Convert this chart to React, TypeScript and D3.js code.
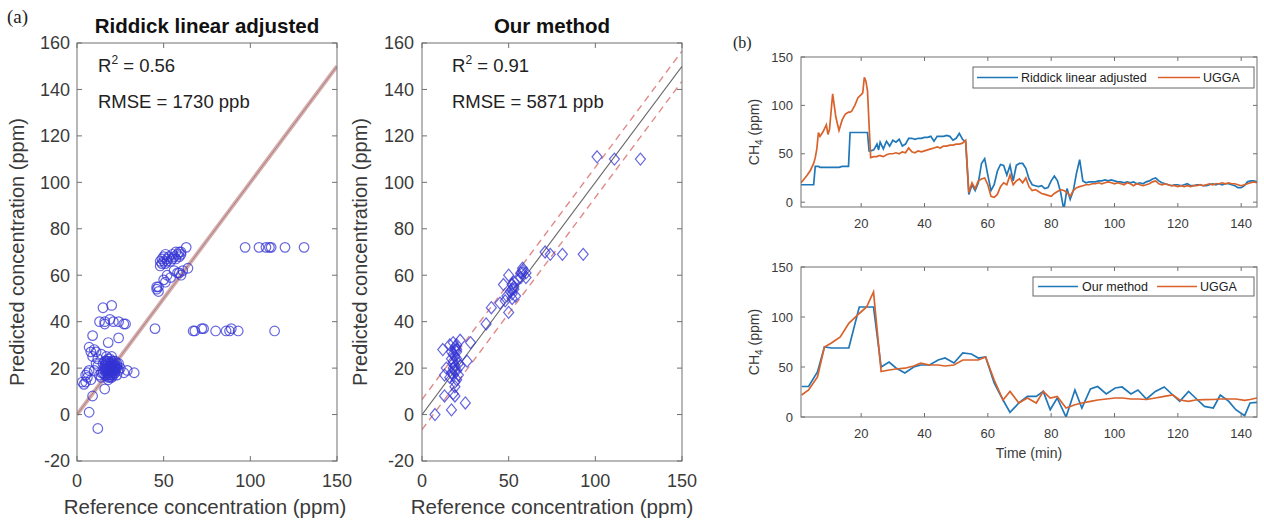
import React from "react";
import * as d3 from "d3";

// ---------- DATA ----------
// Left scatter: Riddick linear adjusted (reference ppm, predicted ppm)
const riddickRef = [63,97,105,109,111,112,120,131,
  45,67,68,72,73,80,86,88,89,93,114,
  46,46,47,47,48,48,49,49,50,50,51,51,52,52,53,54,55,55,56,57,57,58,59,59,60,60,50,52,54,56,58,59,60,64,51,61,
  20,15,13,16,19,21,24,28,27,16,9,18,24,7,8,10,11,9,12,14,5,6,4,3,5,6,7,8,16,9,7,12,29,33,27,25,10,11,12,13,14,
  15,16,16,17,17,17,18,18,18,19,19,19,20,20,20,20,21,21,21,22,22,22,23,23,24,18,19,20,16,17,21,15,14,23,24,18,19,22,20,17,
  16,17,18,19,20,21,22,17,18,19,20,21,16,18,20,22,19,21,17,23,18,20,19,21,22];
const riddickPred = [72,72,72,72,72,72,72,72,
  37,36,36,37,37,36,36,36,37,36,36,
  54,55,53,55,64,66,65,67,66,68,65,69,66,67,68,66,67,69,68,67,70,69,68,70,69,70,58,60,59,62,61,61,60,63,57,62,
  47,46,40,40,41,40,40,39,39,39,34,31,33,29,27,28,27,25,24,26,17,16,13,14,14,18,19,15,11,8,1,-6,19,18,18,20,19,22,21,17,18,
  18,19,21,20,22,17,20,23,16,19,21,24,18,20,22,25,19,21,17,20,23,18,20,22,19,18,17,16,17,25,23,22,16,17,22,15,22,21,19,19,
  20,21,22,20,21,20,19,18,19,18,21,22,23,24,23,21,20,19,23,21,17,17,16,18,20];

// Middle scatter: Our method
const oursRef = [7.5,17,25,19,18,13,12,16,18,20,17,19,22,28,26,14,13,18,19,18,19,19,20,21,22,17,18,20,19,21,17,16,20,
  37,40,45,47,50,50,49,51,52,53,52,53,54,57,57,58,60,58,71,74,81,93,101,111,126,48,55,60,52,
  18,19,20,19,18,20,53,52,58];
const oursPred = [0,2,5,8,9,8,28,30,31,30,27,28,32,31,23,20,17,23,21,17,14,12,24,17,21,18,20,27,29,22,24,16,19,
  39,46,48,56,60,44,51,53,56,57,52,54,51,59,61,63,61,62,70,69,69,69,111,110,110,49,58,59,50,
  26,25,28,19,22,15,55,54,61];

// Top time series
const topTime = [1,2,3,4,5,5.5,6,6.5,7,8,9,9.5,10,11,12,13,14,15,16,16.5,17,18,19,20,20.5,21,21.5,22,22.5,23,24,25,25.5,26,27,28,29,30,31,32,33,34,35,36,37,38,39,40,41,42,43,44,45,46,47,48,49,50,51,52,53,54,55,56,57,58,59,60,61,62,63,64,65,66,67,68,69,70,71,72,73,74,75,76,77,78,79,80,81,82,83,84,85,86,87,88,89,90,91,92,93,94,95,96,97,98,99,100,101,102,103,104,105,106,107,108,109,110,111,112,113,114,115,116,117,118,119,120,121,122,123,124,125,126,127,128,129,130,131,132,133,134,135,136,137,138,139,140,141,142,143,144,145];
const topUGGA = [20,24,28,33,40,46,55,72,68,73,80,70,75,112,88,74,85,91,93,93,94,100,108,111,113,129,125,115,80,46,47,47,48,48,47,49,50,50,51,50,52,51,56,52,51,53,52,53,54,55,56,57,56,58,58,59,59,60,60,61,64,10,20,14,22,24,25,18,6,5,8,16,20,18,28,18,22,24,20,25,16,12,13,11,9,8,7,6,9,11,13,12,10,6,12,15,16,17,18,18,19,19,20,19,20,21,20,19,20,19,18,20,19,17,19,18,17,18,19,21,22,19,18,19,18,17,17,16,17,16,17,16,17,17,18,17,18,19,18,19,19,20,19,20,19,19,18,17,18,19,20,21,20];
const topRiddick = [18,18,18,18,18,37,37,37,36,36,36,36,36,36,36,36,37,37,37,72,72,72,72,72,72,72,72,72,53,53,54,60,54,62,55,63,58,64,62,65,58,60,66,66,65,66,66,67,67,68,63,68,68,68,69,68,64,66,71,65,62,8,18,12,20,40,45,28,12,18,32,39,38,28,38,22,38,40,40,35,24,18,17,16,17,14,15,22,27,22,10,-8,14,3,12,30,44,22,20,21,21,21,22,22,23,22,23,22,21,21,20,21,20,21,19,20,19,21,22,24,25,22,20,19,18,17,18,18,17,18,19,17,17,18,18,17,17,18,19,18,19,18,19,19,18,17,15,15,17,21,22,22,21];

// Bottom time series
const botTime = [1.2,3.4,6.2,8.4,10.6,13.4,16.1,19.4,21.7,23.9,26.3,28.8,31,33.8,36.6,38.8,41.6,44.3,46.5,49.3,52.1,54.8,57,59.3,62,64.8,67,69.8,72.5,75.3,77.5,79.7,81.9,84.7,87.5,89.7,92.4,94.7,97.4,100.2,102.4,105.2,107.4,110.1,112.9,115.7,118.4,120.6,123.4,125.6,128.4,131.2,133.4,136.1,138.3,141.1,142.8,145];
const botOurs = [30.5,30.5,45,70,69,69,69,110,110,110,50,55,49,44,50,52,52,57,59,54,64,63,59,60,34,17,4.6,14,20.6,20.6,25.6,7.3,19,0,27,9,28,30.5,23,29,30,23,27,18,25.6,30,22,15.6,25.6,19,10.6,9,22,15.6,7.3,1.3,14,14.6];
const botUGGA = [22,27,40,70,74,80,93.6,103.5,110,125,45.5,47,48,48.8,51,53.8,52,52,51,52,57,57,57,60,37,17,25.6,14,19,14,25.6,19,20.6,9,12.3,14,15.6,17,18,19,19,18,18,17.5,19,20.6,22,17,15.6,17,17.3,17.5,18,18,18,16.6,17.5,19];

const scatterXTicks = [0, 50, 100, 150];
const scatterYTicks = [-20, 0, 20, 40, 60, 80, 100, 120, 140, 160];
const tsXTicks = [20, 40, 60, 80, 100, 120, 140];
const tsYTicks = [0, 50, 100, 150];

// ---------- STYLE ----------
const FONT = "'Liberation Sans', Arial, Helvetica, sans-serif";
const AXIS = "#707070";
const TXT = "#3a3a3a";
const BLUE = "#1f77b8";
const ORANGE = "#d9622b";
const MARK = "#3434d4";

type Box = { x0: number; x1: number; y0: number; y1: number };

function Frame({ box, x, y, xt, yt, tl = 5, fs, xLabY, yLabX }: any) {
  return (
    <g>
      <rect x={box.x0} y={box.y0} width={box.x1 - box.x0} height={box.y1 - box.y0} fill="none" stroke={AXIS} strokeWidth={1} />
      {xt.map((t: number) => (
        <g key={"x" + t}>
          <line x1={x(t)} x2={x(t)} y1={box.y1} y2={box.y1 - tl} stroke={AXIS} />
          <line x1={x(t)} x2={x(t)} y1={box.y0} y2={box.y0 + tl} stroke={AXIS} />
          <text x={x(t)} y={xLabY} textAnchor="middle" fontSize={fs} fill={TXT} fontFamily={FONT}>{t}</text>
        </g>
      ))}
      {yt.map((t: number) => (
        <g key={"y" + t}>
          <line x1={box.x0} x2={box.x0 + tl} y1={y(t)} y2={y(t)} stroke={AXIS} />
          <line x1={box.x1} x2={box.x1 - tl} y1={y(t)} y2={y(t)} stroke={AXIS} />
          <text x={yLabX} y={y(t) + fs * 0.36} textAnchor="end" fontSize={fs} fill={TXT} fontFamily={FONT}>{t}</text>
        </g>
      ))}
    </g>
  );
}

export default function App() {
  const L: Box = { x0: 77, x1: 337, y0: 43, y1: 461 };
  const M: Box = { x0: 422, x1: 682, y0: 43, y1: 461 };
  const T: Box = { x0: 801, x1: 1257, y0: 57, y1: 207 };
  const B: Box = { x0: 801, x1: 1257, y0: 267, y1: 417 };

  const xl = d3.scaleLinear().domain([0, 150]).range([L.x0, L.x1]);
  const yl = d3.scaleLinear().domain([-20, 160]).range([L.y1, L.y0]);
  const xm = d3.scaleLinear().domain([0, 150]).range([M.x0, M.x1]);
  const ym = d3.scaleLinear().domain([-20, 160]).range([M.y1, M.y0]);
  const xt = d3.scaleLinear().domain([1, 145]).range([T.x0, T.x1]);
  const yt = d3.scaleLinear().domain([-5, 150]).range([T.y1, T.y0]);
  const xb = d3.scaleLinear().domain([1, 145]).range([B.x0, B.x1]);
  const yb = d3.scaleLinear().domain([0, 150]).range([B.y1, B.y0]);

  const lineT = d3.line<number>().x((_, i) => xt(topTime[i])).y((d) => yt(d));
  const lineB = d3.line<number>().x((_, i) => xb(botTime[i])).y((d) => yb(d));

  const diamond = (cx: number, cy: number) => `M${cx},${cy - 6}L${cx + 5},${cy}L${cx},${cy + 6}L${cx - 5},${cy}Z`;

  return (
    <svg width={1264} height={523} style={{ position: "absolute", left: 0, top: 0, display: "block", background: "#fff" }}>
      <defs>
        <clipPath id="clipT"><rect x={T.x0} y={T.y0} width={T.x1 - T.x0} height={T.y1 - T.y0} /></clipPath>
        <clipPath id="clipB"><rect x={B.x0} y={B.y0 - 2} width={B.x1 - B.x0} height={B.y1 - B.y0 + 2} /></clipPath>
        <clipPath id="clipL"><rect x={L.x0} y={L.y0} width={L.x1 - L.x0} height={L.y1 - L.y0} /></clipPath>
        <clipPath id="clipM"><rect x={M.x0} y={M.y0} width={M.x1 - M.x0} height={M.y1 - M.y0} /></clipPath>
      </defs>

      {/* panel labels */}
      <text x={7} y={23} fontSize={19} fontFamily="'Liberation Serif', 'Times New Roman', serif" fill="#222">(a)</text>
      <text x={733} y={48} fontSize={16} fontFamily="'Liberation Serif', 'Times New Roman', serif" fill="#222">(b)</text>

      {/* ---- Left scatter ---- */}
      <text x={(L.x0 + L.x1) / 2} y={33} textAnchor="middle" fontSize={20.5} fontWeight="bold" fontFamily={FONT} fill="#111">Riddick linear adjusted</text>
      <g clipPath="url(#clipL)">
        <line x1={xl(0)} y1={yl(0)} x2={xl(150)} y2={yl(150)} stroke="#d2aeae" strokeWidth={4} />
        <line x1={xl(0)} y1={yl(0)} x2={xl(150)} y2={yl(150)} stroke="#a86a6a" strokeWidth={1} opacity={0.7} />
        {riddickRef.map((v, i) => (
          <circle key={i} cx={xl(v)} cy={yl(riddickPred[i])} r={4.8} fill="none" stroke={MARK} strokeWidth={1.2} opacity={0.75} />
        ))}
      </g>
      <Frame box={L} x={xl} y={yl} xt={scatterXTicks} yt={scatterYTicks} fs={18} xLabY={487} yLabX={70} />
      <text x={98} y={72} fontSize={18.5} fontFamily={FONT} fill="#222">R<tspan dy={-8} fontSize={12}>2</tspan><tspan dy={8}> = 0.56</tspan></text>
      <text x={98} y={108} fontSize={18.5} fontFamily={FONT} fill="#222">RMSE = 1730 ppb</text>
      <text x={(L.x0 + L.x1) / 2 - 2} y={514} textAnchor="middle" fontSize={20.5} fontFamily={FONT} fill={TXT}>Reference concentration (ppm)</text>
      <text transform={`translate(24,${(L.y0 + L.y1) / 2}) rotate(-90)`} textAnchor="middle" fontSize={20} fontFamily={FONT} fill={TXT}>Predicted concentration (ppm)</text>

      {/* ---- Middle scatter ---- */}
      <text x={(M.x0 + M.x1) / 2} y={33} textAnchor="middle" fontSize={20.5} fontWeight="bold" fontFamily={FONT} fill="#111">Our method</text>
      <g clipPath="url(#clipM)">
        <line x1={xm(0)} y1={ym(6.5)} x2={xm(150)} y2={ym(156.5)} stroke="#e08a8a" strokeWidth={1.4} strokeDasharray="7,5" />
        <line x1={xm(0)} y1={ym(-6.5)} x2={xm(150)} y2={ym(143.5)} stroke="#e08a8a" strokeWidth={1.4} strokeDasharray="7,5" />
        <line x1={xm(0)} y1={ym(0)} x2={xm(150)} y2={ym(150)} stroke="#666" strokeWidth={1.1} />
        {oursRef.map((v, i) => (
          <path key={i} d={diamond(xm(v), ym(oursPred[i]))} fill="none" stroke={MARK} strokeWidth={1.2} opacity={0.75} />
        ))}
      </g>
      <Frame box={M} x={xm} y={ym} xt={scatterXTicks} yt={scatterYTicks} fs={18} xLabY={487} yLabX={414} />
      <text x={452} y={72} fontSize={18.5} fontFamily={FONT} fill="#222">R<tspan dy={-8} fontSize={12}>2</tspan><tspan dy={8}> = 0.91</tspan></text>
      <text x={452} y={108} fontSize={18.5} fontFamily={FONT} fill="#222">RMSE = 5871 ppb</text>
      <text x={(M.x0 + M.x1) / 2} y={514} textAnchor="middle" fontSize={20.5} fontFamily={FONT} fill={TXT}>Reference concentration (ppm)</text>
      <text transform={`translate(367,${(M.y0 + M.y1) / 2}) rotate(-90)`} textAnchor="middle" fontSize={20} fontFamily={FONT} fill={TXT}>Predicted concentration (ppm)</text>

      {/* ---- Top time series ---- */}
      <g clipPath="url(#clipT)">
        <path d={lineT(topRiddick) || ""} fill="none" stroke={BLUE} strokeWidth={1.7} />
        <path d={lineT(topUGGA) || ""} fill="none" stroke={ORANGE} strokeWidth={1.7} />
      </g>
      <Frame box={T} x={xt} y={yt} xt={tsXTicks} yt={tsYTicks} tl={4} fs={13} xLabY={228} yLabX={793} />
      <text transform={`translate(759,${(T.y0 + T.y1) / 2}) rotate(-90)`} textAnchor="middle" fontSize={14} fontFamily={FONT} fill={TXT}>CH<tspan dy={4} fontSize={10}>4</tspan><tspan dy={-4}> (ppm)</tspan></text>
      <rect x={973} y={67} width={281} height={21} fill="#fff" stroke="#666" />
      <line x1={977} x2={1018} y1={77.5} y2={77.5} stroke={BLUE} strokeWidth={1.7} />
      <text x={1021} y={82} fontSize={12.5} fontFamily={FONT} fill="#222">Riddick linear adjusted</text>
      <line x1={1158} x2={1200} y1={77.5} y2={77.5} stroke={ORANGE} strokeWidth={1.7} />
      <text x={1203} y={82} fontSize={12.5} fontFamily={FONT} fill="#222">UGGA</text>

      {/* ---- Bottom time series ---- */}
      <g clipPath="url(#clipB)">
        <path d={lineB(botOurs) || ""} fill="none" stroke={BLUE} strokeWidth={1.7} />
        <path d={lineB(botUGGA) || ""} fill="none" stroke={ORANGE} strokeWidth={1.7} />
      </g>
      <Frame box={B} x={xb} y={yb} xt={tsXTicks} yt={tsYTicks} tl={4} fs={13} xLabY={438} yLabX={793} />
      <text transform={`translate(759,${(B.y0 + B.y1) / 2}) rotate(-90)`} textAnchor="middle" fontSize={14} fontFamily={FONT} fill={TXT}>CH<tspan dy={4} fontSize={10}>4</tspan><tspan dy={-4}> (ppm)</tspan></text>
      <text x={(B.x0 + B.x1) / 2} y={458} textAnchor="middle" fontSize={14} fontFamily={FONT} fill={TXT}>Time (min)</text>
      <rect x={1033} y={277} width={221} height={19} fill="#fff" stroke="#666" />
      <line x1={1038} x2={1078} y1={286.5} y2={286.5} stroke={BLUE} strokeWidth={1.7} />
      <text x={1082} y={291} fontSize={12.5} fontFamily={FONT} fill="#222">Our method</text>
      <line x1={1157} x2={1197} y1={286.5} y2={286.5} stroke={ORANGE} strokeWidth={1.7} />
      <text x={1200} y={291} fontSize={12.5} fontFamily={FONT} fill="#222">UGGA</text>
    </svg>
  );
}
